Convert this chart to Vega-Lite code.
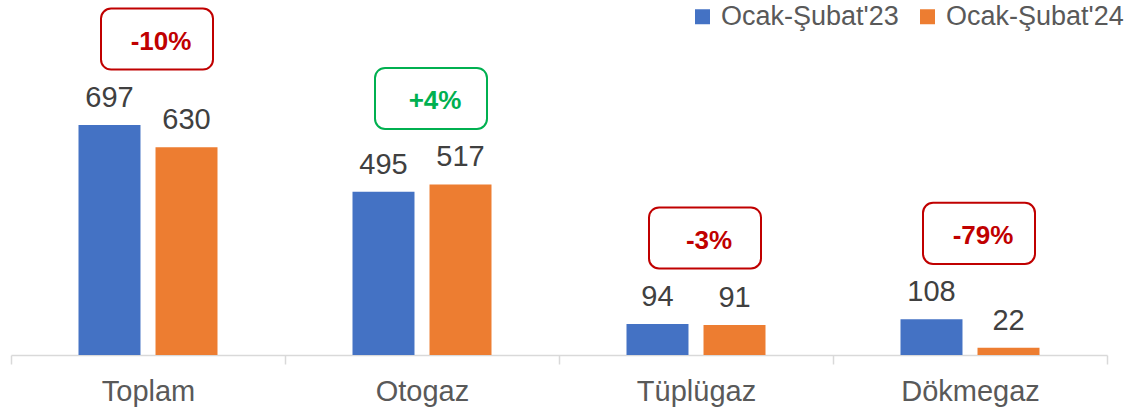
{
  "$schema": "https://vega.github.io/schema/vega-lite/v6.json",
  "width": 1096,
  "height": 355,
  "autosize": {"type": "none"},
  "padding": {"left": 11, "top": 0, "right": 18, "bottom": 56},
  "background": "white",
  "config": {"view": {"stroke": null}, "font": "Liberation Sans"},
  "data": {
    "values": [
      {"cat": "Toplam", "series": "Ocak-Şubat'23", "value": 697, "change": "-10%"},
      {"cat": "Toplam", "series": "Ocak-Şubat'24", "value": 630, "change": "-10%"},
      {"cat": "Otogaz", "series": "Ocak-Şubat'23", "value": 495, "change": "+4%"},
      {"cat": "Otogaz", "series": "Ocak-Şubat'24", "value": 517, "change": "+4%"},
      {"cat": "Tüplügaz", "series": "Ocak-Şubat'23", "value": 94, "change": "-3%"},
      {"cat": "Tüplügaz", "series": "Ocak-Şubat'24", "value": 91, "change": "-3%"},
      {"cat": "Dökmegaz", "series": "Ocak-Şubat'23", "value": 108, "change": "-79%"},
      {"cat": "Dökmegaz", "series": "Ocak-Şubat'24", "value": 22, "change": "-79%"}
    ]
  },
  "encoding": {
    "x": {
      "field": "cat",
      "type": "nominal",
      "sort": ["Toplam", "Otogaz", "Tüplügaz", "Dökmegaz"],
      "scale": {"paddingInner": 0, "paddingOuter": 0},
      "axis": {
        "title": null,
        "labelAngle": 0,
        "tickBand": "extent",
        "domainColor": "#D9D9D9",
        "domainWidth": 1.5,
        "tickColor": "#D9D9D9",
        "tickWidth": 1.5,
        "tickSize": 9,
        "labelPadding": 13,
        "labelFontSize": 29,
        "labelColor": "#595959",
        "labelFont": "Liberation Sans"
      }
    }
  },
  "layer": [
    {
      "mark": {"type": "bar"},
      "encoding": {
        "xOffset": {"field": "series", "type": "nominal", "scale": {"paddingInner": 0.195, "paddingOuter": 0.8766}},
        "y": {"field": "value", "type": "quantitative", "scale": {"domain": [0, 1076]}, "axis": null},
        "color": {
          "field": "series",
          "type": "nominal",
          "scale": {"domain": ["Ocak-Şubat'23", "Ocak-Şubat'24"], "range": ["#4472C4", "#ED7D31"]},
          "legend": {
            "title": null,
            "orient": "none",
            "legendX": 678,
            "legendY": 3,
            "direction": "horizontal",
            "symbolType": "square",
            "symbolSize": 225,
            "symbolStrokeWidth": 0,
            "labelFontSize": 27,
            "labelLimit": 400,
            "labelColor": "#595959",
            "labelFont": "Liberation Sans",
            "labelOffset": 5,
            "columnPadding": 15,
            "padding": 0
          }
        }
      }
    },
    {
      "mark": {"type": "text", "dy": -18, "baseline": "alphabetic", "fontSize": 29, "color": "#404040"},
      "encoding": {
        "xOffset": {"field": "series", "type": "nominal", "scale": {"paddingInner": 0.195, "paddingOuter": 0.8766}},
        "y": {"field": "value", "type": "quantitative", "scale": {"domain": [0, 1076]}, "axis": null},
        "text": {"field": "value", "type": "quantitative"}
      }
    },
    {
      "transform": [{"aggregate": [{"op": "max", "field": "value", "as": "top"}], "groupby": ["cat", "change"]}],
      "mark": {
        "type": "point",
        "shape": "M -0.82 -0.545 L 0.82 -0.545 C 0.92 -0.545 1 -0.465 1 -0.365 L 1 0.365 C 1 0.465 0.92 0.545 0.82 0.545 L -0.82 0.545 C -0.92 0.545 -1 0.465 -1 0.365 L -1 -0.365 C -1 -0.465 -0.92 -0.545 -0.82 -0.545 Z",
        "size": 12544,
        "filled": false,
        "strokeWidth": 2,
        "opacity": 1,
        "yOffset": -86,
        "xOffset": 9
      },
      "encoding": {
        "y": {"field": "top", "type": "quantitative", "scale": {"domain": [0, 1076]}, "axis": null},
        "stroke": {"condition": {"test": "indexof(datum.change, '+') === 0", "value": "#00B050"}, "value": "#C00000"}
      }
    },
    {
      "transform": [{"aggregate": [{"op": "max", "field": "value", "as": "top"}], "groupby": ["cat", "change"]}],
      "mark": {"type": "text", "fontSize": 26, "fontWeight": "bold", "baseline": "middle", "yOffset": -83, "xOffset": 13},
      "encoding": {
        "y": {"field": "top", "type": "quantitative", "scale": {"domain": [0, 1076]}, "axis": null},
        "text": {"field": "change", "type": "nominal"},
        "color": {"condition": {"test": "indexof(datum.change, '+') === 0", "value": "#00B050"}, "value": "#C00000"}
      }
    }
  ]
}
